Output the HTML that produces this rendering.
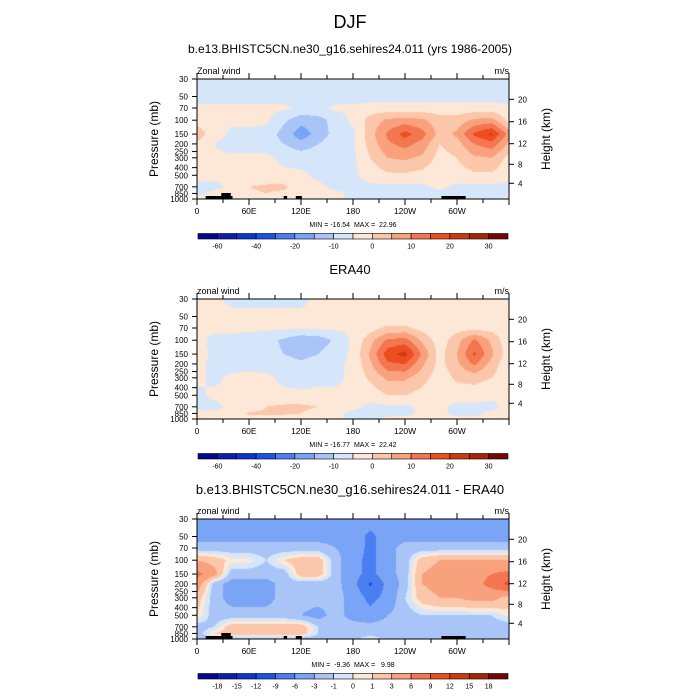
<!DOCTYPE html>
<html><head><meta charset="utf-8"><style>
html,body{margin:0;padding:0;background:#fff;}
#root{position:relative;width:700px;height:700px;overflow:hidden;font-family:"Liberation Sans",sans-serif;}
text{white-space:pre;}
</style></head><body>
<div id="root">
<svg id="svg" width="700" height="700" xmlns="http://www.w3.org/2000/svg" style="position:absolute;left:0;top:0"></svg>
</div>
<script>
// ---------- data ----------
const lons = [0,20,40,60,80,100,120,140,160,180,200,220,240,260,280,300,320,340,360];
const plevs = [30,50,70,100,150,200,300,500,700,850,1000];
const model = [
[-2,-2,-2,-2,-2,-2,-2,-2,-2,-2,-2,-2,-2,-2,-2,-2,-2,-2,-2],
[-2,-2,-2,-2,-2,-2,-2,-2,-2,-2,-2,-2,-2,-2,-2,-2,-2,-2,-2],
[1,1,1,1,1,1,-1,-1,1,1,2,2,2,2,2,2,2,2,1],
[3,2,1,2,1,-4,-8,-7,-3,1,7,11,12,11,7,7,11,12,3],
[8,2,-1,-2,-2,-7,-13,-8,-3,-1,8,16,22,17,8,11,21,26,13],
[4,0,-2,-2,-2,-5,-8,-5,-2,-1,7,14,17,13,5,8,15,18,9],
[1,1,1,1,1,-1,-2,-2,-2,-1,5,10,11,9,3,5,9,10,3],
[1,1,1,1,1,1,1,-1,-2,-1,2,4,4,3,1,3,4,4,1],
[-1,-1,1,5,6,6,2,1,-1,-1,-1,-1,-1,-1,1,-1,-1,-1,-1],
[-1,1,2,4,5,4,1,1,1,-1,-1,-1,-1,-1,-1,-1,-1,-1,-1],
[1,1,1,1,1,1,1,1,1,-1,-1,-1,-1,-1,-1,-1,-1,-1,1]];
const era = [
[1,1,-1,-1,-1,-1,-1,1,1,1,1,1,1,1,1,1,1,1,1],
[1,1,1,1,1,1,1,1,1,1,1,1,1,1,1,1,1,1,1],
[1,1,1,1,1,1,1,1,1,1,3,6,6,3,1,3,3,3,1],
[1,-1,-1,-2,-3,-6,-9,-8,-4,1,8,16,17,9,2,8,16,9,1],
[2,-1,-1,-1,-3,-5,-7,-5,-2,1,11,23,27,14,3,10,21,11,2],
[1,-1,-2,-1,-2,-2,-4,-2,-1,1,9,19,20,11,3,9,16,8,1],
[1,-1,1,1,1,-1,-2,-1,-1,1,6,11,11,7,2,6,7,5,1],
[-1,1,1,1,1,1,1,1,1,1,2,5,5,3,1,2,2,1,1],
[-1,-1,1,1,5,6,6,5,1,1,-1,-1,-1,1,1,-1,-1,-1,1],
[1,1,1,6,6,6,5,3,1,-1,-1,-1,-1,1,1,-1,-1,1,1],
[6,1,1,1,1,1,1,1,1,-1,-1,1,1,1,1,1,1,1,1]];
const diff = [
[-4,-4,-4,-4,-4,-4,-4,-4,-4,-4,-4,-4,-4,-4,-4,-4,-4,-4,-4],
[-4,-4,-4,-4,-4,-4,-4,-4,-4,-4,-7,-4,-4,-4,-4,-4,-4,-4,-4],
[-2,-2,-2,-2,-2,-2,-2,-2,-3,-4,-7,-4,-2,-2,-2,-2,-2,-2,-2],
[3,2,0.5,0.5,-1,1,2,2,-2,-5,-7,-4,-2,2,3,3,3,3,3],
[7,4,-2,-2,-2,-2,2,2,-2,-5,-7,-4,-2,3,4,4,5,6,7],
[5,-2,-4,-4,-4,-2,-2,-2,-2,-5,-9.5,-5,-2,3,4,4,5,7,10],
[2,-2,-4,-4,-4,-2,-2,-2,-2,-4,-7,-5,-1,2,3,3,4,4,2],
[1,-2,-2,-2,-2,-2,-3,-4,-2,-4,-5,-3,-2,-1,-1,-1,-1,-1,0.5],
[-2,-1,2,2,2,2,2,-1,-2,-2,-2,-2,-2,-2,-2,-2,-2,-2,-2],
[-2,1,2,2,2,2,2,-1,-2,-2,-2,-2,-2,-2,-2,-2,-2,-2,-2],
[-2,-2,-2,-2,-2,-2,-2,-2,-2,-2,0.5,-2,-2,-2,-2,-2,-2,-2,-2]];
const levelsA = [-60,-50,-40,-30,-20,-15,-10,-5,0,5,10,15,20,25,30];
const labelsA = ["-60","","-40","","-20","","-10","","0","","10","","20","","30"];
const levelsD = [-18,-15,-12,-9,-6,-3,-1,0,1,3,6,9,12,15,18];
const labelsD = ["-18","-15","-12","-9","-6","-3","-1","0","1","3","6","9","12","15","18"];
const presLabels = [30,50,70,100,150,200,250,300,400,500,700,850,1000];
const lonTicks = [0,30,60,90,120,150,180,210,240,270,300,330,360];
const lonLabels = {0:"0",60:"60E",120:"120E",180:"180",240:"120W",300:"60W"};
const heightLabels = [20,16,12,8,4];
const colors = ["#05068e","#0a1fb0","#0a35d2","#1c52ec","#4a7ff2","#7aa4f6","#a9c5f8","#d5e6fb",
 "#fde7d6","#fcc6aa","#f9a17d","#f47650","#ed4e20","#d03810","#a52708","#780505"];

// ---------- layout ----------
const X0=197, X1=509, H=120;
const hOff=[20.3,42.7,64.7,85.3,104.3];
function xs(lon){return X0+(lon/360)*(X1-X0);}
function ys(top,p){return top+H*(Math.log(p/30)/Math.log(1000/30));}
const NS="http://www.w3.org/2000/svg";
const svg=document.getElementById('svg');
function mk(tag,attrs,parent){const e=document.createElementNS(NS,tag);for(const k in attrs)e.setAttribute(k,attrs[k]);(parent||svg).appendChild(e);return e;}
function txt(x,y,s,size,anchor,parent){const t=mk('text',{x:x,y:y,'font-size':size,'text-anchor':anchor||'middle',fill:'#000','font-family':'Liberation Sans, sans-serif'},parent);t.textContent=s;return t;}

function valAt(grid,lon,lp){
  let i=Math.min(lons.length-2,Math.floor(lon/20)); let fx=(lon-lons[i])/20;
  let j=0; while(j<plevs.length-2 && Math.log10(plevs[j+1])<lp) j++;
  const a=Math.log10(plevs[j]), b=Math.log10(plevs[j+1]);
  let fy=Math.max(0,Math.min(1,(lp-a)/(b-a)));
  const v00=grid[j][i],v01=grid[j][i+1],v10=grid[j+1][i],v11=grid[j+1][i+1];
  return (v00*(1-fx)+v01*fx)*(1-fy)+(v10*(1-fx)+v11*fx)*fy;
}
function colorIdx(v,levels){let k=0;while(k<levels.length&&v>=levels[k])k++;return k;}
function hex(c){return [parseInt(c.slice(1,3),16),parseInt(c.slice(3,5),16),parseInt(c.slice(5,7),16)];}

function panel(top,grid,levels,labels,shift,title,titleY,left,mm,topo){
  const g=mk('g',{});
  
  
  const t=txt(350,titleY,title,title==="ERA40"||title.indexOf(' - ')>0?13:12,'middle',g);
  
  
  const cv=document.createElement('canvas');cv.width=X1-X0;cv.height=H;
  cv.style.cssText='position:absolute;left:'+X0+'px;top:'+top+'px;';
  
  
  const ctx=cv.getContext('2d');const img=ctx.createImageData(cv.width,cv.height);
  const lp0=Math.log10(30),lp1=Math.log10(1000);
  const rgb=colors.map(hex);
  for(let py=0;py<H;py++){
    const lp=lp0+(py+0.5)/H*(lp1-lp0);
    for(let px=0;px<cv.width;px++){
      const lon=(px+0.5)/cv.width*360;
      let k=colorIdx(valAt(grid,lon,lp),levels)-shift; k=Math.max(0,Math.min(15,k));
      const c=rgb[k];
      const o=(py*cv.width+px)*4;img.data[o]=c[0];img.data[o+1]=c[1];img.data[o+2]=c[2];img.data[o+3]=255;
    }
  }
  ctx.putImageData(img,0,0);
  document.getElementById('root').insertBefore(cv,svg);
  if(topo){
    const tg=mk('g',{},g);
    
    
    [[10,41,3],[28,39,6],[100,104,3],[114,121,3],[282,310,3]].forEach(r=>{
      mk('rect',{x:xs(r[0]),y:top+H-r[2],width:xs(r[1])-xs(r[0]),height:r[2],fill:'#000'},tg);
    });
  }
  const fr=mk('rect',{x:X0,y:top,width:X1-X0,height:H,fill:'none',stroke:'#000','stroke-width':1},g);
  
  
  lonTicks.forEach(l=>{
    const x=xs(l);const major=(l%60===0);
    mk('line',{x1:x,x2:x,y1:top,y2:top-(major?6:4),stroke:'#000','stroke-width':1},g);
    mk('line',{x1:x,x2:x,y1:top+H,y2:top+H+(major?6:4),stroke:'#000','stroke-width':1},g);
    if(lonLabels[l]!==undefined && l<360){const tl=txt(x,top+H+15,lonLabels[l],8.5,'middle',g);
      
      }
  });
  presLabels.forEach(p=>{
    const y=ys(top,p);
    mk('line',{x1:X0,x2:X0-5,y1:y,y2:y,stroke:'#000','stroke-width':1},g);
    const tl=txt(X0-9,y+3,String(p),8,'end',g);
    
    
  });
  heightLabels.forEach((h,i)=>{
    const y=top+hOff[i];
    mk('line',{x1:X1,x2:X1+5,y1:y,y2:y,stroke:'#000','stroke-width':1},g);
    const tl=txt(X1+9,y+3,String(h),8,'start',g);
    
    
  });
  const yl=txt(0,0,'Pressure (mb)',12,'middle',g);
  yl.setAttribute('transform','translate(158,'+(top+H/2)+') rotate(-90)');
  
  
  const yr=txt(0,0,'Height (km)',12,'middle',g);
  yr.setAttribute('transform','translate(550,'+(top+H/2)+') rotate(-90)');
  
  
  const ls=txt(X0,top-5,left,9,'start',g);
  
  
  const rs=txt(X1,top-5,'m/s',9,'end',g);
  
  
  const mmT=txt(353,top+H+28,mm,7,'middle',g);
  
  
  const cb=mk('g',{},g);
  
  
  const cy=top+H+34.5, cw=(508-198)/colors.length;
  colors.forEach((c,k)=>{
    const r=mk('rect',{x:198+k*cw,y:cy,width:cw,height:5.5,fill:c,stroke:'#000','stroke-width':0.6},cb);
    
    
  });
  labels.forEach((s,k)=>{ if(s){const tl=txt(198+(k+1)*cw,cy+15,s,7,'middle',cb);
    
    }});
}
const main=txt(350,28,'DJF',18,'middle');


panel(79,model,levelsA,labelsA,1,'b.e13.BHISTC5CN.ne30_g16.sehires24.011 (yrs 1986-2005)',53,'Zonal wind','MIN = -16.54  MAX =  22.96',true);
panel(299,era,levelsA,labelsA,1,'ERA40',274,'zonal wind','MIN = -16.77  MAX =  22.42',false);
panel(519,diff,levelsD,labelsD,0,'b.e13.BHISTC5CN.ne30_g16.sehires24.011 - ERA40',494,'zonal wind','MIN =  -9.36  MAX =   9.98',true);
</script>
</body></html>
